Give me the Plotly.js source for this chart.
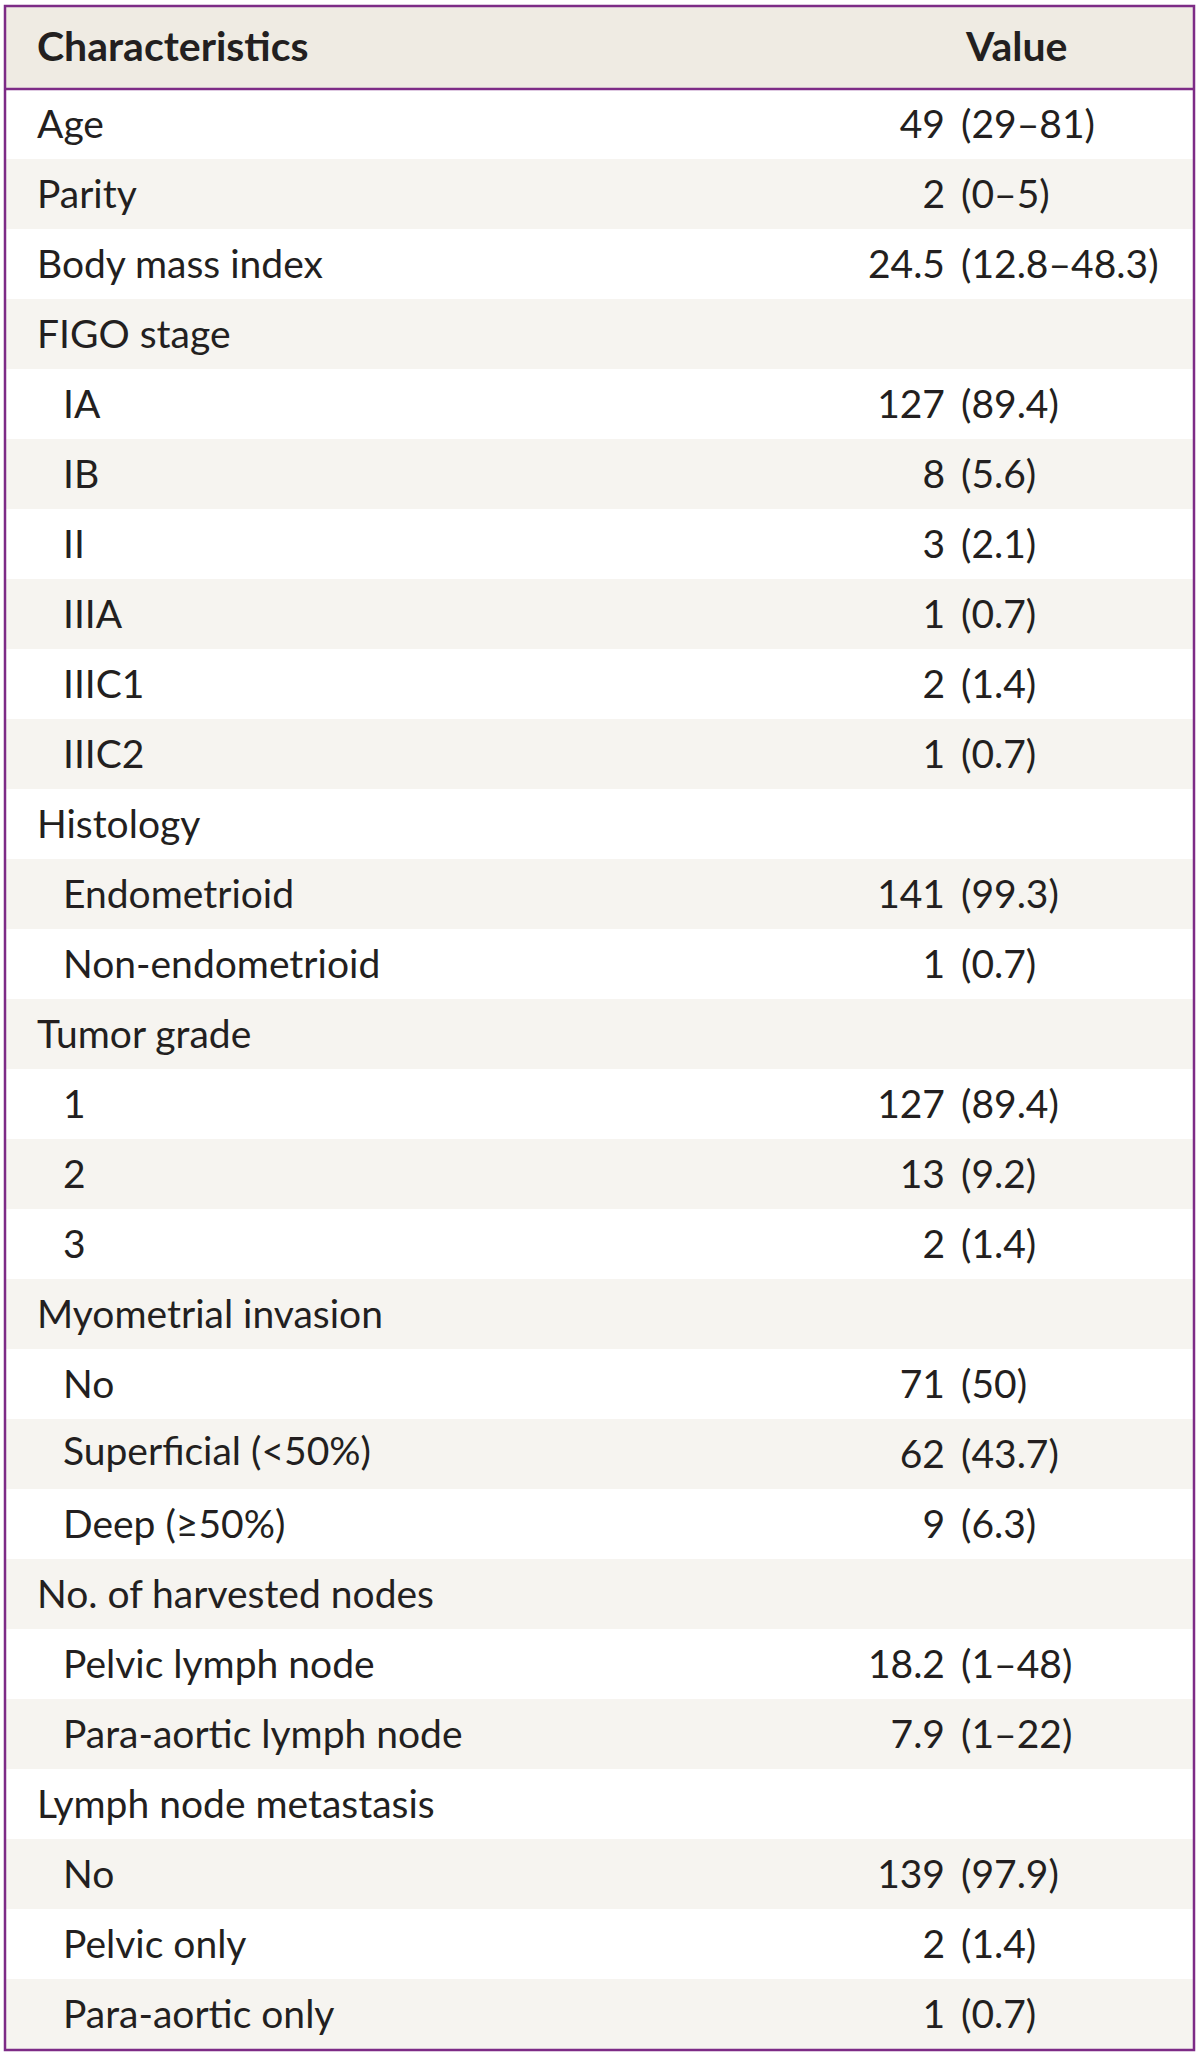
<!DOCTYPE html>
<html>
<head>
<meta charset="utf-8">
<script src="https://cdn.plot.ly/plotly-3.0.1.min.js"></script>
<style>
  html, body { margin: 0; padding: 0; background: #ffffff; }
  #chart { width: 1200px; height: 2058px; }
  #chart .cell-text { transform: translateY(12px); }
</style>
</head>
<body>
<div id="chart"></div>
<script>
// ---- Data ----
const headerLabels = ["Characteristics", "Value"];

const characteristics = [
  "Age", "Parity", "Body mass index",
  "FIGO stage", "IA", "IB", "II", "IIIA", "IIIC1", "IIIC2",
  "Histology", "Endometrioid", "Non-endometrioid",
  "Tumor grade", "1", "2", "3",
  "Myometrial invasion", "No", "Superficial (&lt;50%)", "Deep (\u226550%)",
  "No. of harvested nodes", "Pelvic lymph node", "Para-aortic lymph node",
  "Lymph node metastasis", "No", "Pelvic only", "Para-aortic only"
];

const levels = [
  0, 0, 0,
  0, 1, 1, 1, 1, 1, 1,
  0, 1, 1,
  0, 1, 1, 1,
  0, 1, 1, 1,
  0, 1, 1,
  0, 1, 1, 1
];

const values = [
  "49 (29\u201381)", "2 (0\u20135)", "24.5 (12.8\u201348.3)",
  "", "127 (89.4)", "8 (5.6)", "3 (2.1)", "1 (0.7)", "2 (1.4)", "1 (0.7)",
  "", "141 (99.3)", "1 (0.7)",
  "", "127 (89.4)", "13 (9.2)", "2 (1.4)",
  "", "71 (50)", "62 (43.7)", "9 (6.3)",
  "", "18.2 (1\u201348)", "7.9 (1\u201322)",
  "", "139 (97.9)", "2 (1.4)", "1 (0.7)"
];

// ---- Build table columns ----
const FONT = "Lato, Open Sans, sans-serif";
const TEXT = "#231f20";
const PURPLE = "#7d2b86";
const HEADER_BG = "#efebe3";
const ROW_ALT = "#f6f4f0";
const ROW_WHITE = "#ffffff";

const indent = "\u2002\u2006";
const labelCol = characteristics.map((c, i) => (levels[i] ? indent : "") + c);
const numCol = values.map(v => v ? v.slice(0, v.indexOf(" ")) : "");
const rangeCol = values.map(v => v ? v.slice(v.indexOf(" ") + 1) : "");
const spacerCol = values.map(() => "");

const rowFill = characteristics.map((_, i) => (i % 2 === 1 ? ROW_ALT : ROW_WHITE));

const HEADER_H = 83;
const ROW_H = 70;
const W = 1200, H = 2058;
const margin = { l: 5, r: 6, t: 6, b: 8 };
const plotH = H - margin.t - margin.b;

const trace = {
  type: "table",
  columnwidth: [24, 726, 198, 241],
  header: {
    values: ["", "<b>" + headerLabels[0] + "</b>", "", "<b>\u2009" + headerLabels[1] + "</b>"],
    align: ["left", "left", "right", "left"],
    height: HEADER_H,
    fill: { color: HEADER_BG },
    line: { width: 0, color: HEADER_BG },
    font: { family: FONT, size: 41, color: TEXT }
  },
  cells: {
    values: [spacerCol, labelCol, numCol, rangeCol],
    align: ["left", "left", "right", "left"],
    height: ROW_H,
    fill: { color: [rowFill, rowFill, rowFill, rowFill] },
    line: { width: 0, color: [rowFill, rowFill, rowFill, rowFill] },
    font: { family: FONT, size: 39, color: TEXT }
  }
};

const layout = {
  width: W,
  height: H,
  margin: margin,
  paper_bgcolor: "#ffffff",
  showlegend: false,
  shapes: [
    { type: "rect", xref: "paper", yref: "paper", x0: 0, x1: 1, y0: 0, y1: 1,
      line: { color: PURPLE, width: 2.5 }, fillcolor: "rgba(0,0,0,0)" },
    { type: "line", xref: "paper", yref: "paper", x0: 0, x1: 1,
      y0: 1 - HEADER_H / plotH, y1: 1 - HEADER_H / plotH,
      line: { color: PURPLE, width: 2.5 } }
  ]
};

Plotly.newPlot("chart", [trace], layout, { displayModeBar: false, staticPlot: true }).then(gd => {
  const nudgeHeader = () => {
    gd.querySelectorAll("text").forEach(t => {
      const s = t.textContent.replace(/[\s\u2009]/g, "");
      if (headerLabels.indexOf(s) !== -1) t.style.transform = "translateY(19px)";
    });
  };
  nudgeHeader();
  setTimeout(nudgeHeader, 50);
});
</script>
</body>
</html>
